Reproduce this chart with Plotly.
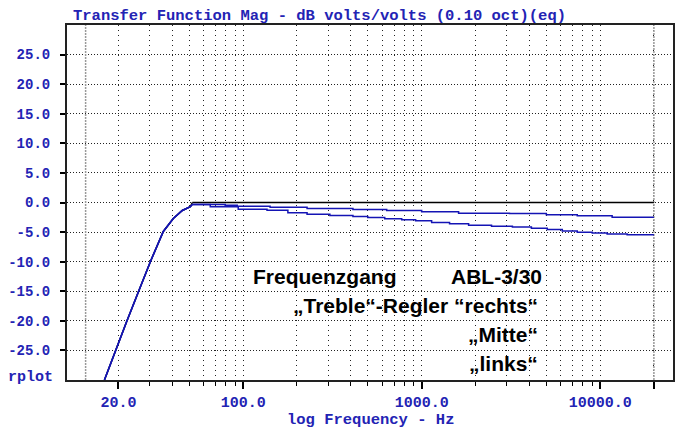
import plotly.graph_objects as go

# ---- data ----
rolloff_freq = [16.7, 19.3, 22.2, 25.9, 30.2, 35.7, 40.6, 45.6, 50.6]
rolloff_db = [-30.0, -24.9, -20.2, -15.1, -10.0, -4.9, -2.7, -1.35, -0.7]

rechts_freq = [51.9, 20000]
rechts_db = [0.0, 0.0]

mitte_freq = [51.9, 79.3, 92.6, 141.5, 228, 412, 637, 1000, 1610, 3103, 4993, 7441, 11670, 20000]
mitte_db = [-0.34, -0.46, -0.63, -0.80, -1.02, -1.19, -1.36, -1.58, -1.81, -1.86, -2.08, -2.25, -2.49, -2.49]

links_freq = [51.9, 65.4, 93.8, 136, 178, 228, 306, 412, 499, 621, 773, 925, 1137, 1433,
              1832, 2462, 3223, 4118, 5054, 6135, 7441, 9025, 10940, 14160, 20000]
links_db = [-0.34, -0.73, -1.14, -1.31, -1.75, -1.98, -2.2, -2.37, -2.54, -2.76, -2.93, -3.1,
            -3.39, -3.61, -3.85, -4.02, -4.12, -4.36, -4.58, -4.8, -5.03, -5.14, -5.31, -5.47, -5.47]

limit_freqs = [13.1, 20000]

x_major = [20, 100, 1000, 10000, 20000]
x_major_text = ["20.0", "100.0", "1000.0", "10000.0", ""]
x_minor = [30, 40, 50, 60, 70, 80, 90, 200, 300, 400, 500, 600, 700, 800, 900,
           2000, 3000, 4000, 5000, 6000, 7000, 8000, 9000]
y_ticks = [-25, -20, -15, -10, -5, 0, 5, 10, 15, 20, 25]
y_text = ["%.1f" % v for v in y_ticks]

BLUE_TXT = "#2323b4"
CURVE_BLUE = "#1414b4"
MONO = "Liberation Mono"

# the page body adds an 8 px offset; the figure is sized/placed to compensate
OFF = 8
W, H = 683 - OFF, 430 - OFF

fig = go.Figure()

# measurement limit lines
for f in limit_freqs:
    fig.add_trace(go.Scatter(x=[f, f], y=[-30, 30], mode="lines",
                             line=dict(color="#9a9a9a", width=1.5, dash="2px,1px"),
                             hoverinfo="skip", showlegend=False))

curves = [
    ("rechts", rechts_freq, rechts_db, "#000000"),
    ("Mitte", mitte_freq, mitte_db, CURVE_BLUE),
    ("links", links_freq, links_db, CURVE_BLUE),
]
for name, fx, fy, col in curves:
    fig.add_trace(go.Scatter(x=rolloff_freq + [fx[0]], y=rolloff_db + [fy[0]], mode="lines",
                             line=dict(color=col, width=1.5), name=name, showlegend=False))
    fig.add_trace(go.Scatter(x=fx, y=fy, mode="lines", line_shape="hv",
                             line=dict(color=col, width=1.5), name=name, showlegend=False))

fig.update_xaxes(
    type="log", range=[1.013, 4.408], automargin=False,
    tickmode="array", tickvals=x_major, ticktext=x_major_text,
    ticks="outside", ticklen=7, tickwidth=1.5, tickcolor="#000",
    showgrid=True, gridcolor="#222", gridwidth=1, griddash="1px,4px",
    minor=dict(tickmode="array", tickvals=x_minor, ticks="outside", ticklen=4,
               tickwidth=1.2, tickcolor="#000", showgrid=True, gridcolor="#222",
               gridwidth=1, griddash="1px,4px"),
    showline=True, linecolor="#222", linewidth=2, mirror=True,
    tickfont=dict(family=MONO, size=15, color=BLUE_TXT, weight="bold"),
    zeroline=False,
)
fig.update_yaxes(
    range=[-30, 30], automargin=False,
    tickmode="array", tickvals=y_ticks, ticktext=y_text,
    ticks="outside", ticklen=5, tickwidth=1.5, tickcolor="#000",
    ticklabelstandoff=7,
    showgrid=True, gridcolor="#222", gridwidth=1, griddash="1px,2px",
    showline=True, linecolor="#222", linewidth=2, mirror=True,
    tickfont=dict(family=MONO, size=14, color=BLUE_TXT, weight="bold"),
    zeroline=False,
)

# plot area in page pixels: x 67..673, y 25..380
def px(xpix):
    return (xpix - 67) / 606.0

def py(ypix):
    return (380 - ypix) / 355.0

ann_font = dict(family="Liberation Sans", size=21, color="#000", weight="bold")
annotations = [
    dict(text="Frequenzgang", x=px(251), y=py(276), xanchor="left", yanchor="middle"),
    dict(text="ABL-3/30", x=px(544), y=py(276), xanchor="right", yanchor="middle"),
    dict(text="„Treble“-Regler “rechts“", x=px(540), y=py(305), xanchor="right", yanchor="middle"),
    dict(text="„Mitte“", x=px(540), y=py(334), xanchor="right", yanchor="middle"),
    dict(text="„links“", x=px(540), y=py(363), xanchor="right", yanchor="middle"),
]
for a in annotations:
    a.update(xref="paper", yref="paper", showarrow=False, font=ann_font)

annotations.append(dict(text="log Frequency - Hz", x=px(370), y=py(420), xref="paper", yref="paper",
                        xanchor="center", yanchor="middle", showarrow=False,
                        font=dict(family=MONO, size=15.5, color=BLUE_TXT, weight="bold")))
annotations.append(dict(text="rplot", x=px(55), y=py(377), xref="paper", yref="paper",
                        xanchor="right", yanchor="middle", showarrow=False,
                        font=dict(family=MONO, size=15, color=BLUE_TXT, weight="bold")))
side_letters = ["N", "I", "S", "S", "A"]
side_y = [36, 53, 70, 87, 104]
for t, yy in zip(side_letters, side_y):
    annotations.append(dict(text=t, x=px(675), y=py(yy), xref="paper", yref="paper",
                            xanchor="left", yanchor="middle", showarrow=False,
                            font=dict(family=MONO, size=15, color="#c81ec8", weight="bold")))

fig.update_layout(
    width=W, height=H,
    margin=dict(l=67 - OFF, r=W - (673 - OFF), t=25 - OFF, b=H - (380 - OFF), autoexpand=False),
    paper_bgcolor="white", plot_bgcolor="white",
    title=dict(text="Transfer Function Mag - dB volts/volts (0.10 oct)(eq)",
               x=(73 - OFF) / W, xanchor="left", xref="container",
               y=1 - (15 - OFF) / H, yanchor="middle",
               font=dict(family=MONO, size=15.5, color=BLUE_TXT, weight="bold")),
    annotations=annotations,
    showlegend=False,
)

fig.write_html("out.html")
